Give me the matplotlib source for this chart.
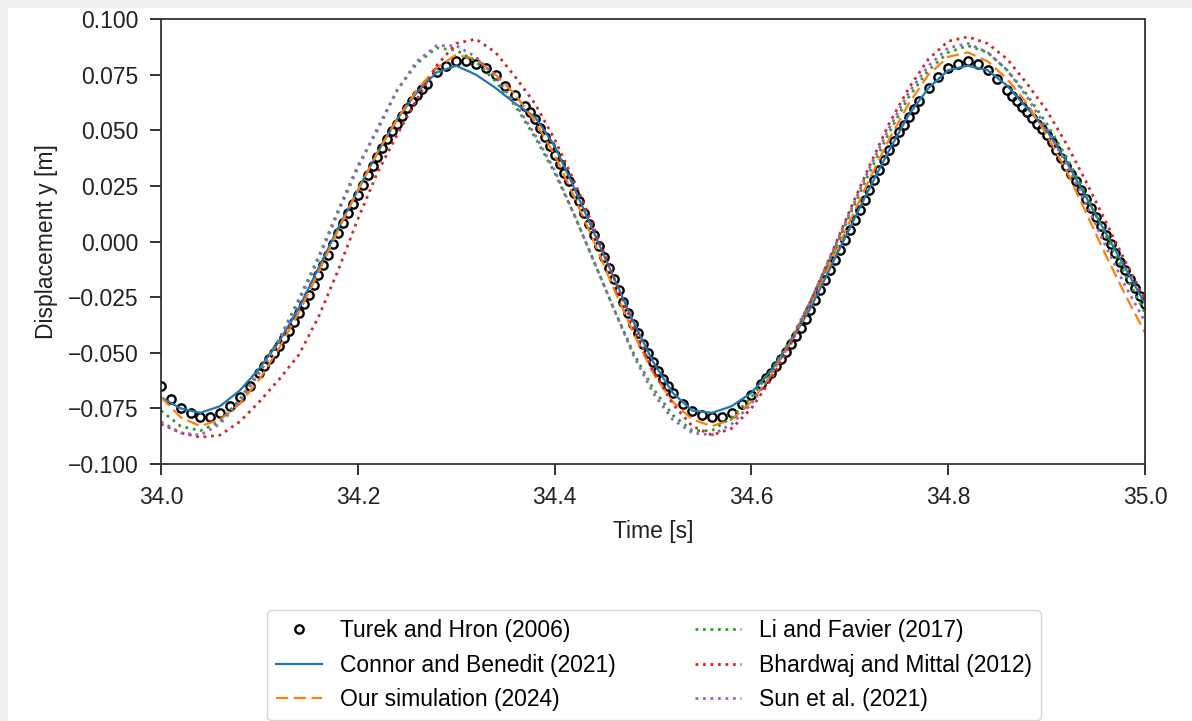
import matplotlib
matplotlib.use("Agg")
import matplotlib.pyplot as plt
from matplotlib.patches import Rectangle

plt.rcParams['font.family'] = ['Liberation Sans', 'DejaVu Sans']

# ---------------- data ----------------
turek_t = [34.00, 34.01, 34.02, 34.03, 34.04, 34.05, 34.06, 34.07, 34.08, 34.09,
           34.10, 34.105, 34.11, 34.115, 34.12, 34.125, 34.13, 34.135, 34.14, 34.145,
           34.15, 34.155, 34.16, 34.165, 34.17, 34.175, 34.18, 34.185, 34.19, 34.195,
           34.20, 34.205, 34.21, 34.215, 34.22, 34.225, 34.23, 34.235, 34.24, 34.245,
           34.25, 34.255, 34.26, 34.265, 34.27, 34.28, 34.29, 34.30, 34.31, 34.32,
           34.33, 34.34, 34.35, 34.36, 34.37, 34.375, 34.38, 34.385, 34.39, 34.395,
           34.40, 34.405, 34.41, 34.415, 34.42, 34.425, 34.43, 34.435, 34.44, 34.445,
           34.45, 34.455, 34.46, 34.465, 34.47, 34.475, 34.48, 34.485, 34.49, 34.495,
           34.50, 34.505, 34.51, 34.515, 34.52, 34.53, 34.54, 34.55, 34.56, 34.57,
           34.58, 34.59, 34.60, 34.61, 34.615, 34.62, 34.625, 34.63, 34.635, 34.64,
           34.645, 34.65, 34.655, 34.66, 34.665, 34.67, 34.675, 34.68, 34.685, 34.69,
           34.695, 34.70, 34.705, 34.71, 34.715, 34.72, 34.725, 34.73, 34.735, 34.74,
           34.745, 34.75, 34.755, 34.76, 34.765, 34.77, 34.78, 34.79, 34.80, 34.81,
           34.82, 34.83, 34.84, 34.85, 34.86, 34.865, 34.87, 34.875, 34.88, 34.885,
           34.89, 34.895, 34.90, 34.905, 34.91, 34.915, 34.92, 34.925, 34.93, 34.935,
           34.94, 34.945, 34.95, 34.955, 34.96, 34.965, 34.97, 34.975, 34.98, 34.985,
           34.99, 34.995, 35.00]
turek_y = [-0.065, -0.071, -0.075, -0.077, -0.079, -0.079, -0.077, -0.074, -0.070, -0.065,
           -0.059, -0.056, -0.053, -0.050, -0.047, -0.0435, -0.040, -0.036, -0.032, -0.028,
           -0.024, -0.0195, -0.015, -0.0105, -0.006, -0.001, 0.004, 0.0085, 0.013, 0.017,
           0.021, 0.0255, 0.030, 0.034, 0.038, 0.042, 0.046, 0.0495, 0.053, 0.0565,
           0.060, 0.063, 0.066, 0.0685, 0.071, 0.076, 0.079, 0.081, 0.081, 0.080,
           0.078, 0.075, 0.070, 0.066, 0.061, 0.058, 0.055, 0.051, 0.047, 0.043,
           0.039, 0.035, 0.031, 0.027, 0.022, 0.018, 0.013, 0.008, 0.003, -0.002,
           -0.007, -0.012, -0.017, -0.022, -0.027, -0.032, -0.037, -0.041, -0.046, -0.050,
           -0.054, -0.058, -0.062, -0.065, -0.068, -0.073, -0.076, -0.078, -0.079, -0.079,
           -0.077, -0.073, -0.069, -0.064, -0.0615, -0.059, -0.056, -0.053, -0.0495, -0.046,
           -0.0425, -0.039, -0.035, -0.031, -0.0265, -0.022, -0.0175, -0.013, -0.0085, -0.004,
           0.0005, 0.005, 0.0095, 0.014, 0.0185, 0.023, 0.0275, 0.032, 0.0365, 0.041,
           0.045, 0.049, 0.0525, 0.056, 0.0595, 0.063, 0.069, 0.074, 0.078, 0.080,
           0.081, 0.080, 0.077, 0.073, 0.068, 0.0655, 0.063, 0.0605, 0.058, 0.0555,
           0.053, 0.0505, 0.048, 0.0445, 0.041, 0.0375, 0.034, 0.0305, 0.027, 0.023,
           0.019, 0.015, 0.011, 0.007, 0.003, -0.001, -0.005, -0.009, -0.013, -0.017,
           -0.021, -0.0245, -0.028]

line_t = [34.00, 34.02, 34.04, 34.06, 34.08, 34.10, 34.12, 34.14, 34.16, 34.18,
          34.20, 34.22, 34.24, 34.26, 34.28, 34.30, 34.32, 34.34, 34.36, 34.38,
          34.40, 34.42, 34.44, 34.46, 34.48, 34.50, 34.52, 34.54, 34.56, 34.58,
          34.60, 34.62, 34.64, 34.66, 34.68, 34.70, 34.72, 34.74, 34.76, 34.78,
          34.80, 34.82, 34.84, 34.86, 34.88, 34.90, 34.92, 34.94, 34.96, 34.98,
          35.00]

connor_y = [-0.070, -0.075, -0.077, -0.074, -0.067, -0.057, -0.045, -0.030, -0.012, 0.006,
            0.023, 0.040, 0.055, 0.067, 0.076, 0.079, 0.075, 0.069, 0.062, 0.056,
            0.043, 0.024, 0.004, -0.016, -0.036, -0.054, -0.068, -0.076, -0.077, -0.074,
            -0.068, -0.058, -0.045, -0.030, -0.012, 0.006, 0.024, 0.041, 0.057, 0.069,
            0.077, 0.079, 0.077, 0.070, 0.060, 0.050, 0.036, 0.020, 0.004, -0.012,
            -0.028]

ours_y = [-0.070, -0.079, -0.083, -0.080, -0.073, -0.062, -0.048, -0.032, -0.014, 0.005,
          0.023, 0.040, 0.055, 0.068, 0.078, 0.084, 0.082, 0.075, 0.066, 0.054,
          0.039, 0.020, 0.000, -0.021, -0.041, -0.059, -0.072, -0.080, -0.083, -0.080,
          -0.072, -0.060, -0.045, -0.028, -0.010, 0.009, 0.028, 0.046, 0.062, 0.075,
          0.083, 0.085, 0.081, 0.073, 0.062, 0.048, 0.032, 0.013, -0.006, -0.024,
          -0.041]

li_y = [-0.076, -0.083, -0.085, -0.081, -0.071, -0.058, -0.044, -0.026, -0.007, 0.014,
        0.034, 0.050, 0.068, 0.080, 0.087, 0.086, 0.081, 0.072, 0.061, 0.047,
        0.031, 0.012, -0.009, -0.030, -0.050, -0.066, -0.078, -0.085, -0.085, -0.079,
        -0.070, -0.058, -0.044, -0.027, -0.008, 0.012, 0.031, 0.049, 0.065, 0.077,
        0.085, 0.088, 0.085, 0.077, 0.066, 0.053, 0.038, 0.021, 0.003, -0.015,
        -0.032]

bhardwaj_y = [-0.082, -0.086, -0.088, -0.087, -0.081, -0.072, -0.062, -0.051, -0.034, -0.013,
              0.010, 0.031, 0.048, 0.064, 0.079, 0.089, 0.091, 0.085, 0.074, 0.062,
              0.046, 0.027, 0.006, -0.016, -0.038, -0.058, -0.073, -0.083, -0.087, -0.084,
              -0.075, -0.062, -0.046, -0.027, -0.007, 0.014, 0.034, 0.053, 0.069, 0.082,
              0.090, 0.092, 0.089, 0.082, 0.071, 0.059, 0.044, 0.027, 0.009, -0.009,
              -0.026]

sun_y = [-0.081, -0.086, -0.087, -0.082, -0.072, -0.059, -0.045, -0.027, -0.008, 0.013,
         0.033, 0.051, 0.068, 0.081, 0.088, 0.088, 0.083, 0.074, 0.062, 0.048,
         0.032, 0.012, -0.009, -0.030, -0.051, -0.068, -0.080, -0.086, -0.087, -0.082,
         -0.073, -0.060, -0.045, -0.027, -0.007, 0.013, 0.033, 0.051, 0.067, 0.079,
         0.087, 0.089, 0.085, 0.077, 0.065, 0.051, 0.035, 0.017, -0.002, -0.020,
         -0.036]

labels = ["Turek and Hron (2006)", "Connor and Benedit (2021)", "Our simulation (2024)",
          "Li and Favier (2017)", "Bhardwaj and Mittal (2012)", "Sun et al. (2021)"]

# ---------------- figure ----------------
W, H = 1192, 721
FS = 16.5
fig = plt.figure(figsize=(W / 100, H / 100), dpi=100, facecolor='#efefef')
fig.patches.append(Rectangle((8 / W, 0), 1 - 8 / W, 1 - 8 / H, transform=fig.transFigure,
                             facecolor='white', edgecolor='none', zorder=-10))

ax = fig.add_axes([161 / W, 1 - 464 / H, 984 / W, 445 / H])
ax.set_zorder(2)

dot = (0, (1.0, 1.7))
h_turek, = ax.plot(turek_t, turek_y, linestyle='none', marker='o', ms=6, mfc='none',
                   mec='black', mew=1.7, label=labels[0])
h_con, = ax.plot(line_t, connor_y, color='#1f77b4', lw=1.6, label=labels[1])
h_our, = ax.plot(line_t, ours_y, color='#ff7f0e', lw=1.6, ls=(0, (5.5, 2.5)), label=labels[2])
h_li, = ax.plot(line_t, li_y, color='#2ca02c', lw=2.0, ls=dot, label=labels[3])
h_bh, = ax.plot(line_t, bhardwaj_y, color='#d62728', lw=2.0, ls=dot, label=labels[4])
h_sun, = ax.plot(line_t, sun_y, color='#9467bd', lw=2.0, ls=dot, label=labels[5])

ax.set_xlim(34.0, 35.0)
ax.set_ylim(-0.1, 0.1)
ax.set_xticks([34.0, 34.2, 34.4, 34.6, 34.8, 35.0])
ax.set_yticks([-0.100, -0.075, -0.050, -0.025, 0.000, 0.025, 0.050, 0.075, 0.100])
ax.set_yticklabels(['\u22120.100', '\u22120.075', '\u22120.050', '\u22120.025', '0.000',
                    '0.025', '0.050', '0.075', '0.100'])
ax.tick_params(labelsize=FS, length=8, width=1.3, pad=8, colors='#222222')
for s in ax.spines.values():
    s.set_linewidth(1.3)
    s.set_color('#333333')
ax.set_xlabel('Time [s]', fontsize=FS, color='#222222', labelpad=7.5)
ax.set_ylabel('Displacement y [m]', fontsize=FS, color='#222222', labelpad=7.5)

fig.legend(handles=[h_turek, h_con, h_our, h_li, h_bh, h_sun], ncol=2, fontsize=FS,
           loc='upper left', mode='expand', borderaxespad=0,
           bbox_to_anchor=(267 / W, 1 - 718 / H, 774 / W, 108 / H), frameon=True)

fig.savefig('out.png', dpi=100, facecolor=fig.get_facecolor())
